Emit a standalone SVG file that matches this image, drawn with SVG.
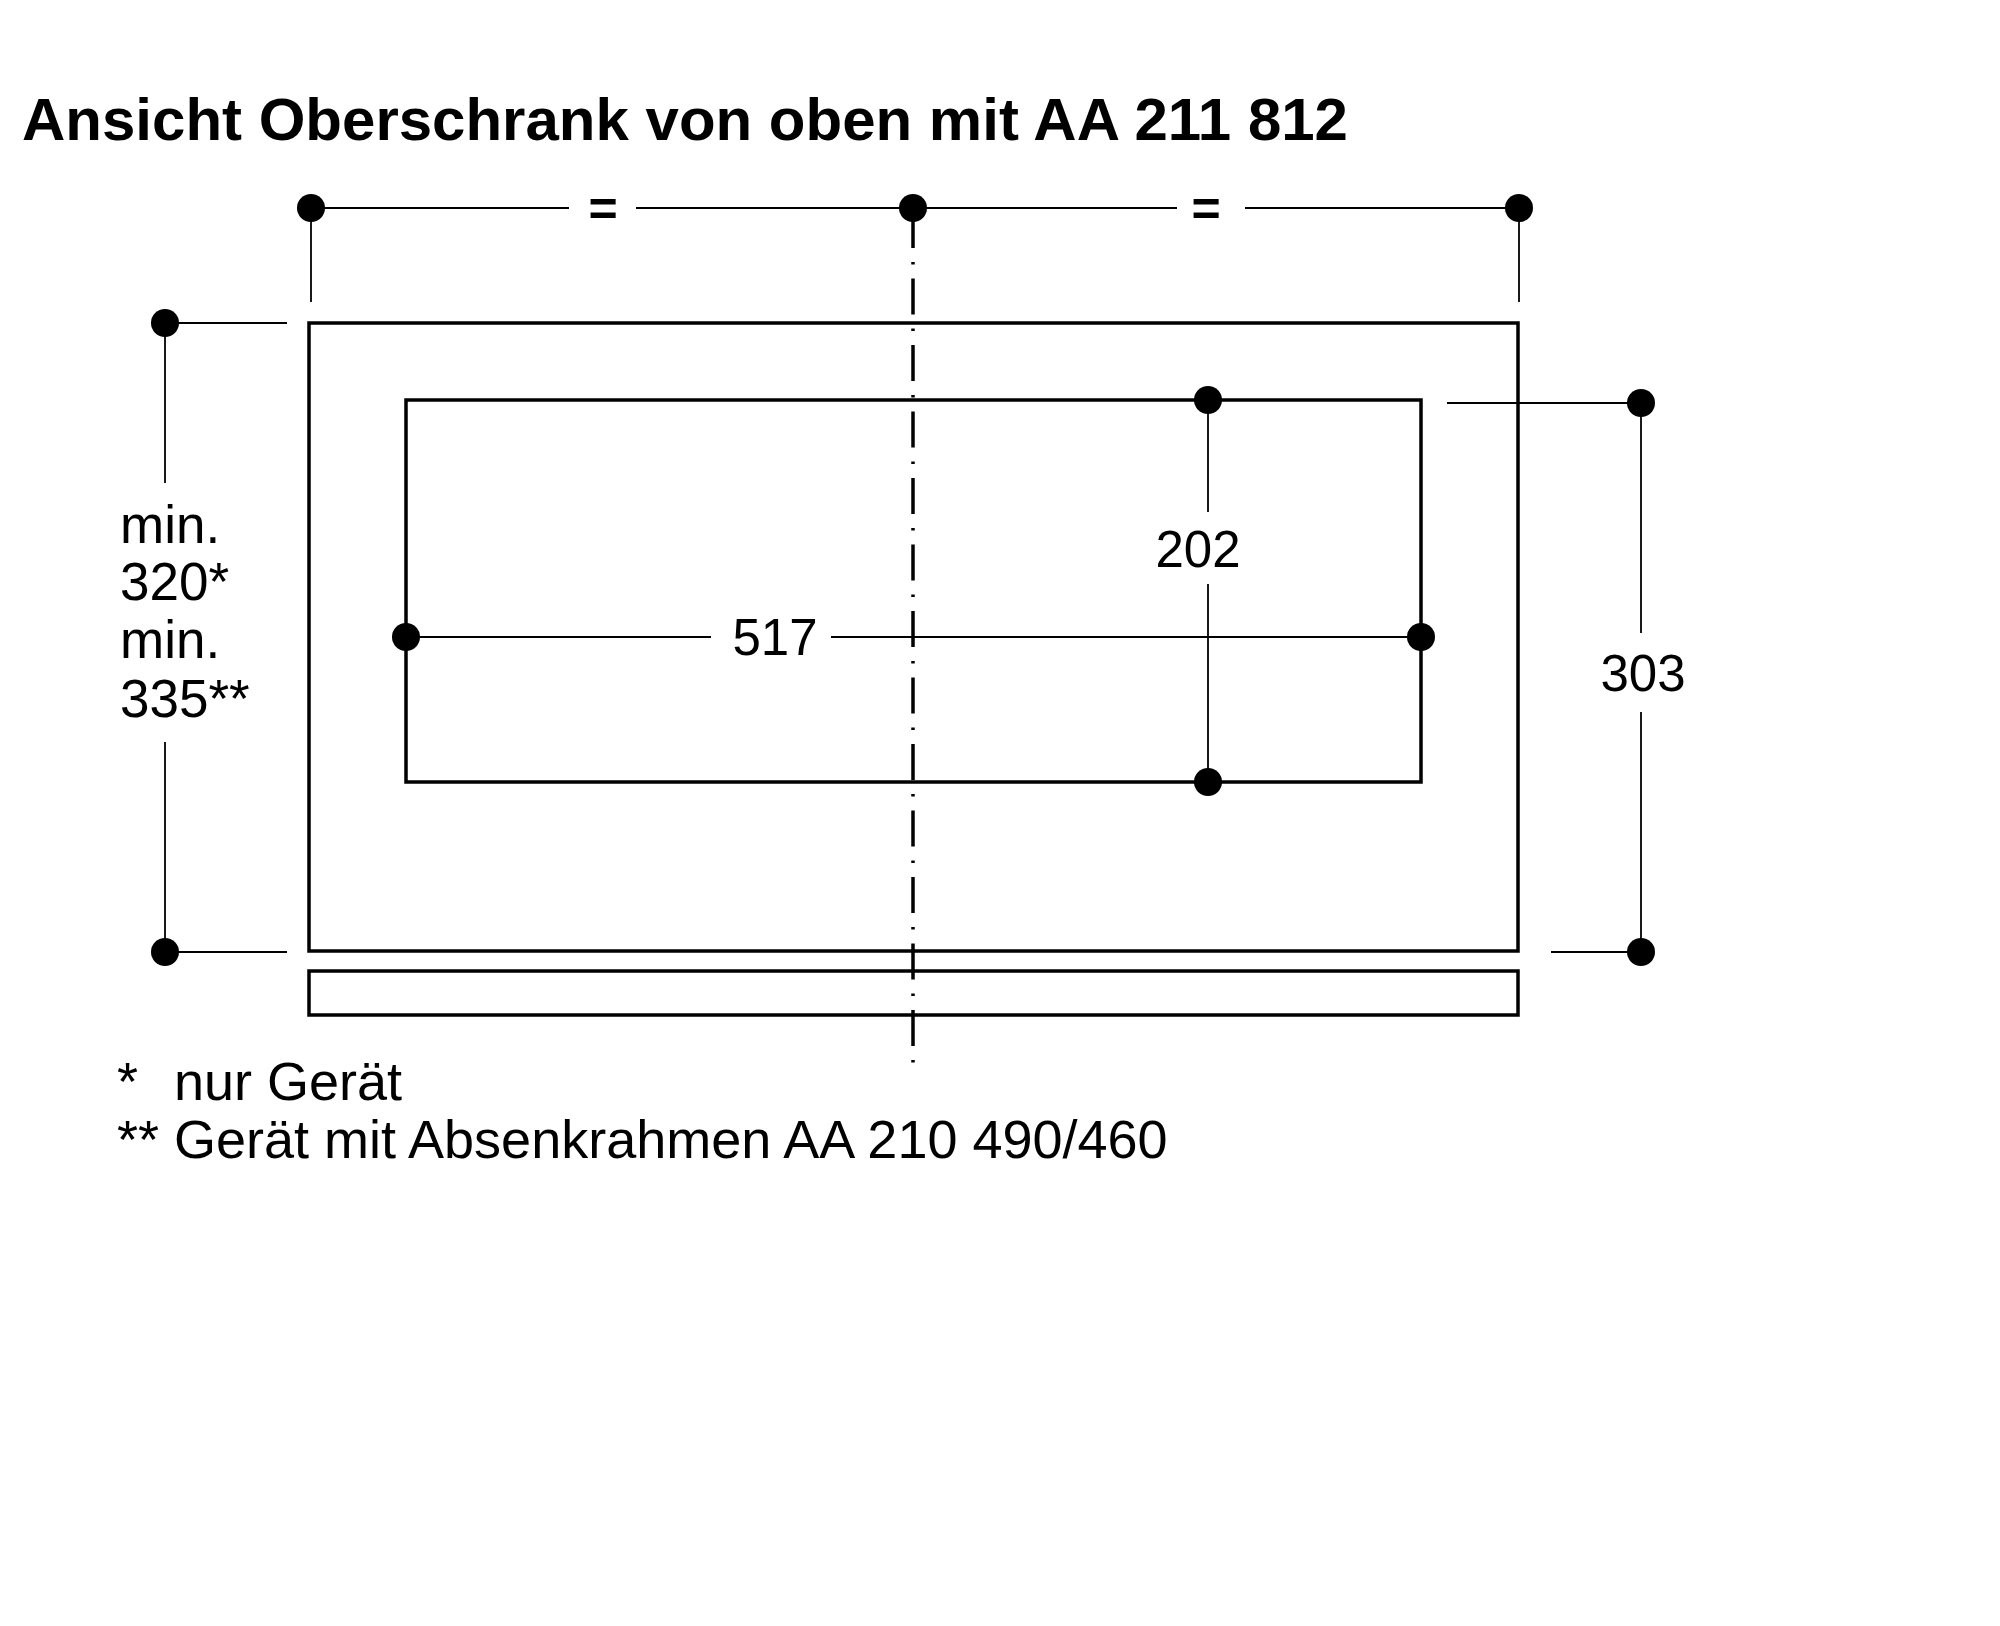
<svg xmlns="http://www.w3.org/2000/svg" width="2000" height="1626" viewBox="0 0 2000 1626">
<style>
.t{font-family:"Liberation Sans",Arial,Helvetica,sans-serif;fill:#000}
.b{font-weight:bold}
.thick{fill:none;stroke:#000;stroke-width:3.5}
.dim{fill:none;stroke:#000;stroke-width:1.8}
.cl{fill:none;stroke:#000;stroke-width:3.5;stroke-dasharray:36 14 2.5 14}
.dot{fill:#000}
</style>
<rect width="2000" height="1626" fill="#fff"/>
<g id="title">
<text class="t b" x="22" y="140" font-size="59" textLength="1326" lengthAdjust="spacingAndGlyphs">Ansicht Oberschrank von oben mit AA 211 812</text>
</g>
<g id="cabinet">
<rect class="thick" x="309" y="323" width="1209" height="628"/>
</g>
<g id="cutout">
<rect class="thick" x="406" y="400" width="1015" height="382"/>
</g>
<g id="strip">
<rect class="thick" x="309" y="971" width="1209" height="44"/>
</g>
<g id="centerline">
<line class="cl" x1="913" y1="212" x2="913" y2="1064"/>
</g>
<g id="connectors">
<line class="dim" x1="311" y1="208" x2="569" y2="208"/>
<line class="dim" x1="636" y1="208" x2="1177" y2="208"/>
<line class="dim" x1="1245" y1="208" x2="1519" y2="208"/>
<line class="dim" x1="311" y1="208" x2="311" y2="302"/>
<line class="dim" x1="1519" y1="208" x2="1519" y2="302"/>
<line class="dim" x1="165" y1="323" x2="287" y2="323"/>
<line class="dim" x1="165" y1="952" x2="287" y2="952"/>
<line class="dim" x1="165" y1="323" x2="165" y2="483"/>
<line class="dim" x1="165" y1="742" x2="165" y2="952"/>
<line class="dim" x1="406" y1="637" x2="711" y2="637"/>
<line class="dim" x1="831" y1="637" x2="1421" y2="637"/>
<line class="dim" x1="1208" y1="400" x2="1208" y2="512"/>
<line class="dim" x1="1208" y1="584" x2="1208" y2="782"/>
<line class="dim" x1="1447" y1="403" x2="1641" y2="403"/>
<line class="dim" x1="1551" y1="952" x2="1641" y2="952"/>
<line class="dim" x1="1641" y1="403" x2="1641" y2="633"/>
<line class="dim" x1="1641" y1="712" x2="1641" y2="952"/>
</g>
<g id="dots">
<circle class="dot" cx="311" cy="208" r="14"/>
<circle class="dot" cx="913" cy="208" r="14"/>
<circle class="dot" cx="1519" cy="208" r="14"/>
<circle class="dot" cx="165" cy="323" r="14"/>
<circle class="dot" cx="165" cy="952" r="14"/>
<circle class="dot" cx="406" cy="637" r="14"/>
<circle class="dot" cx="1421" cy="637" r="14"/>
<circle class="dot" cx="1208" cy="400" r="14"/>
<circle class="dot" cx="1208" cy="782" r="14"/>
<circle class="dot" cx="1641" cy="403" r="14"/>
<circle class="dot" cx="1641" cy="952" r="14"/>
</g>
<g id="labels">
<text class="t b" x="603" y="226" font-size="50" text-anchor="middle">=</text>
<text class="t b" x="1206" y="226" font-size="50" text-anchor="middle">=</text>
<text class="t" font-size="53"><tspan x="120" y="543">min.</tspan><tspan x="120" y="600">320*</tspan><tspan x="120" y="658">min.</tspan><tspan x="120" y="717">335**</tspan></text>
<text class="t" x="775" y="655" font-size="51" text-anchor="middle">517</text>
<text class="t" x="1198" y="567" font-size="51" text-anchor="middle">202</text>
<text class="t" x="1643" y="691" font-size="51" text-anchor="middle">303</text>
</g>
<g id="footnotes">
<text class="t" x="117" y="1100" font-size="54">*</text>
<text class="t" x="174" y="1100" font-size="54">nur Gerät</text>
<text class="t" x="117" y="1158" font-size="54">**</text>
<text class="t" x="174" y="1158" font-size="54">Gerät mit Absenkrahmen AA 210 490/460</text>
</g>
</svg>
